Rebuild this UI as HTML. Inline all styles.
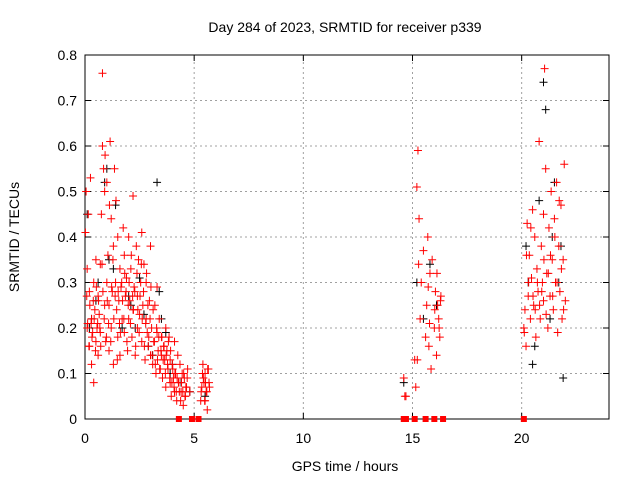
<!DOCTYPE html>
<html><head><meta charset="utf-8"><style>
body{margin:0;background:#fff}
svg{display:block;font-family:"Liberation Sans",sans-serif}
</style></head><body>
<svg id="c" width="640" height="480">
<text x="345" y="32" font-size="14" text-anchor="middle">Day 284 of 2023, SRMTID for receiver p339</text>
<text x="345" y="471" font-size="14" text-anchor="middle">GPS time / hours</text>
<text transform="translate(19,237) rotate(-90)" font-size="14" text-anchor="middle">SRMTID / TECUs</text>
<g id="grid"></g><g id="ax"></g><g id="blk"></g><g id="red"></g>
</svg>
<script>
const xTicks=[0,5,10,15,20];
const yTicks=[0,0.1,0.2,0.3,0.4,0.5,0.6,0.7,0.8];
const redT=[0.05,0.1,0.1,0.15,0.2,0.2,0.25,0.3,0.3,0.35,0.4,0.4,0.45,0.5,0.5,0.55,0.6,0.6,0.65,0.7,0.7,0.75,0.8,0.8,0.85,0.9,0.9,0.95,1.0,1.0,1.05,1.1,1.1,1.15,1.2,1.2,1.25,1.3,1.3,1.35,1.4,1.45,1.5,1.5,1.55,1.6,1.6,1.65,1.7,1.75,1.8,1.8,1.85,1.9,1.95,2.0,2.0,2.05,2.1,2.15,2.2,2.2,2.25,2.3,2.35,2.4,2.4,2.45,2.5,2.55,2.6,2.6,2.65,2.7,2.75,2.8,2.8,2.85,2.9,2.95,3.0,3.0,3.05,3.1,3.15,3.2,3.25,3.3,3.3,3.35,3.4,3.45,3.5,3.5,3.55,3.6,3.65,3.7,3.7,3.75,3.8,3.85,3.9,3.9,3.95,4.0,4.05,4.1,4.1,4.15,4.2,4.25,4.3,4.35,4.4,4.45,4.5,4.55,4.6,4.65,4.7,4.8,5.3,5.35,5.4,5.45,5.5,5.5,5.55,5.6,5.65,5.7,14.6,14.7,15.1,15.15,15.2,15.25,15.3,15.35,15.4,15.5,15.6,15.65,15.7,15.75,15.8,15.85,15.9,16.0,16.05,16.1,16.15,16.2,16.25,16.3,20.1,20.15,20.2,20.25,20.3,20.35,20.4,20.45,20.5,20.55,20.6,20.65,20.7,20.75,20.8,20.85,20.9,20.95,21.0,21.0,21.05,21.1,21.15,21.2,21.25,21.3,21.35,21.4,21.45,21.5,21.55,21.6,21.65,21.7,21.75,21.8,21.85,21.9,21.95,22.0];
const redV=[0.5,0.33,0.2,0.45,0.16,0.28,0.53,0.22,0.12,0.19,0.3,0.08,0.24,0.17,0.35,0.2,0.27,0.14,0.23,0.34,0.19,0.45,0.76,0.6,0.55,0.25,0.5,0.17,0.52,0.3,0.36,0.15,0.25,0.61,0.44,0.2,0.28,0.38,0.12,0.55,0.3,0.24,0.4,0.18,0.26,0.33,0.14,0.29,0.22,0.42,0.36,0.19,0.27,0.31,0.15,0.4,0.22,0.26,0.33,0.18,0.24,0.49,0.29,0.14,0.38,0.27,0.2,0.35,0.23,0.3,0.17,0.41,0.25,0.34,0.13,0.22,0.3,0.19,0.16,0.26,0.38,0.14,0.2,0.12,0.17,0.25,0.1,0.19,0.29,0.15,0.22,0.11,0.18,0.14,0.09,0.16,0.13,0.2,0.07,0.15,0.11,0.18,0.08,0.13,0.05,0.12,0.09,0.17,0.06,0.1,0.04,0.14,0.08,0.12,0.06,0.1,0.03,0.09,0.05,0.07,0.11,0.06,0.04,0.07,0.12,0.08,0.04,0.1,0.06,0.02,0.11,0.07,0.09,0.05,0.13,0.07,0.51,0.59,0.44,0.22,0.3,0.37,0.18,0.25,0.4,0.16,0.32,0.11,0.35,0.2,0.28,0.14,0.25,0.22,0.18,0.27,0.2,0.24,0.16,0.43,0.27,0.36,0.22,0.31,0.46,0.25,0.4,0.18,0.33,0.28,0.61,0.22,0.38,0.3,0.45,0.26,0.77,0.55,0.32,0.2,0.42,0.27,0.5,0.35,0.24,0.44,0.3,0.52,0.19,0.38,0.28,0.47,0.22,0.35,0.56,0.26,0.41,0.18,0.6,0.14,0.44];
const redT2=[0.02,0.08,0.12,0.18,0.22,0.28,0.32,0.38,0.42,0.48,0.52,0.58,0.62,0.68,0.72,0.78,0.82,0.88,0.92,0.98,1.02,1.08,1.12,1.18,1.22,1.28,1.32,1.38,1.42,1.48,1.52,1.58,1.62,1.68,1.72,1.78,1.82,1.88,1.92,1.98,2.02,2.08,2.12,2.18,2.22,2.28,2.32,2.38,2.42,2.48,2.52,2.58,2.62,2.68,2.72,2.78,2.82,2.88,2.92,2.98,3.02,3.08,3.12,3.18,3.22,3.28,3.32,3.38,3.42,3.48,3.52,3.58,3.62,3.68,3.72,3.78,3.82,3.88,3.92,3.98,4.02,4.08,4.12,4.18,4.22,4.28,4.32,4.38,4.42,4.48,4.52,4.58,4.62,4.68,5.32,5.38,5.42,5.48,5.52,5.58,5.62,5.68,14.65,15.22,15.28,15.72,15.78,16.02,16.12,16.22,16.28,20.12,20.22,20.32,20.42,20.52,20.62,20.72,20.82,20.92,21.02,21.12,21.22,21.32,21.42,21.52,21.62,21.72,21.82,21.92];
const redV2=[0.41,0.27,0.21,0.16,0.25,0.21,0.18,0.26,0.22,0.15,0.29,0.21,0.26,0.2,0.16,0.34,0.28,0.22,0.58,0.18,0.26,0.21,0.47,0.17,0.29,0.35,0.22,0.27,0.48,0.13,0.28,0.21,0.19,0.3,0.26,0.22,0.32,0.28,0.17,0.25,0.3,0.21,0.36,0.27,0.24,0.28,0.16,0.32,0.24,0.19,0.27,0.34,0.22,0.28,0.16,0.21,0.32,0.25,0.18,0.22,0.29,0.14,0.24,0.17,0.12,0.2,0.13,0.18,0.11,0.15,0.18,0.13,0.16,0.1,0.14,0.12,0.17,0.09,0.15,0.08,0.11,0.07,0.1,0.06,0.09,0.08,0.06,0.04,0.08,0.06,0.1,0.05,0.07,0.09,0.06,0.1,0.09,0.04,0.08,0.06,0.11,0.08,0.05,0.13,0.34,0.29,0.21,0.24,0.32,0.2,0.26,0.19,0.36,0.3,0.42,0.27,0.24,0.3,0.25,0.28,0.35,0.23,0.32,0.36,0.27,0.4,0.3,0.48,0.33,0.24,0.42,0.5];
const blkT=[0.1,0.3,0.6,0.9,1.1,1.4,1.7,2.1,2.5,2.9,3.3,3.4,3.7,4.0,4.4,4.8,5.5,14.6,15.2,15.5,15.8,16.1,20.2,20.5,20.8,21.0,21.3,21.5,21.7,21.9,0.2,0.5,1.0,1.3,2.0,2.3,2.7,3.1,3.5,3.9,20.3,20.6,21.1,21.4,21.8];
const blkV=[0.45,0.22,0.3,0.52,0.35,0.47,0.2,0.25,0.31,0.16,0.52,0.28,0.19,0.12,0.08,0.06,0.05,0.08,0.3,0.22,0.34,0.25,0.38,0.12,0.48,0.74,0.22,0.52,0.3,0.09,0.2,0.26,0.55,0.33,0.27,0.2,0.23,0.14,0.22,0.1,0.3,0.16,0.68,0.4,0.38];
const zeroT=[4.3,4.9,5.2,14.6,14.7,15.1,15.6,16.0,16.4,20.1];

const X0=85,X1=609,Y0=419,Y1=55;
const xs=t=>X0+t/24*(X1-X0), ys=v=>Y0-v/0.8*(Y0-Y1);
const NS='http://www.w3.org/2000/svg';
function mk(tag,attrs,parent){const e=document.createElementNS(NS,tag);for(const k in attrs)e.setAttribute(k,attrs[k]);parent.appendChild(e);return e;}
const grid=document.getElementById('grid'),ax=document.getElementById('ax');
yTicks.forEach(v=>{const y=ys(v);
 if(v>0&&v<0.8){const g=mk('line',{x1:X0,x2:X1,y1:y,y2:y,stroke:'#a0a0a0','stroke-dasharray':'2,3'},grid);
 }
 mk('line',{x1:X0,x2:X0+6,y1:y,y2:y,stroke:'#000'},ax);mk('line',{x1:X1,x2:X1-6,y1:y,y2:y,stroke:'#000'},ax);
 const t=mk('text',{x:X0-8,y:y+5,'font-size':14,'text-anchor':'end'},ax);t.textContent=v.toFixed(1).replace('0.0','0');
 });
xTicks.forEach(v=>{const x=xs(v);
 if(v>0){const g=mk('line',{x1:x,x2:x,y1:Y0,y2:Y1,stroke:'#a0a0a0','stroke-dasharray':'2,3'},grid);
 }
 mk('line',{x1:x,x2:x,y1:Y0,y2:Y0-6,stroke:'#000'},ax);mk('line',{x1:x,x2:x,y1:Y1,y2:Y1+6,stroke:'#000'},ax);
 const t=mk('text',{x:x,y:Y0+24,'font-size':14,'text-anchor':'middle'},ax);t.textContent=v;
 });
const fr=mk('rect',{x:X0,y:Y1,width:X1-X0,height:Y0-Y1,fill:'none',stroke:'#000'},ax);

function plus(g,x,y,c){const p=mk('path',{d:`M${x-4},${y}h8M${x},${y-4}v8`,stroke:c,'stroke-width':1},g);return p;}
const bg=document.getElementById('blk'),rg=document.getElementById('red');
blkT.forEach((t,i)=>{const p=plus(bg,xs(t),ys(blkV[i]),'#000');
 });
redT.forEach((t,i)=>{const p=plus(rg,xs(t),ys(redV[i]),'#f00');
 });
redT2.forEach((t,i)=>{const p=plus(rg,xs(t),ys(redV2[i]),'#f00');
 });
zeroT.forEach(t=>{const p=mk('rect',{x:xs(t)-3,y:Y0-3,width:6,height:6,fill:'#f00'},rg);
 });
</script>
</body></html>
